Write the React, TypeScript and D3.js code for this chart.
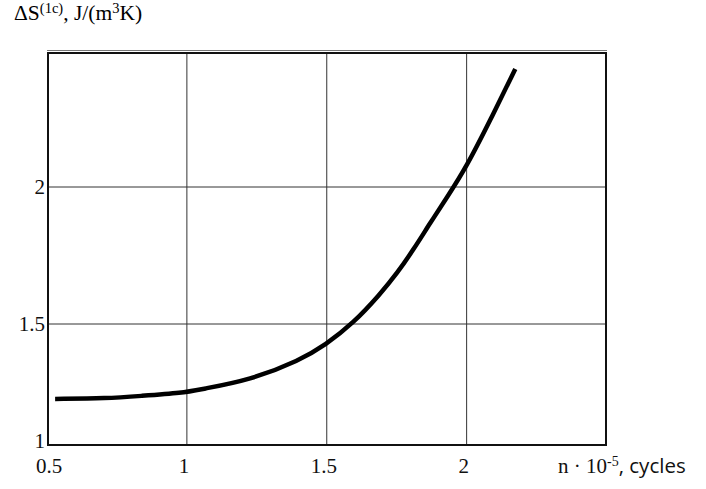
import React from "react";
import * as d3 from "d3";

const curveX = [0.529, 0.715, 0.833, 0.987, 1.047, 1.226, 1.405, 1.495, 1.595, 1.691, 1.752, 1.809, 1.87, 1.931, 1.999, 2.085, 2.174];
const curveY = [1.193, 1.195, 1.205, 1.218, 1.232, 1.27, 1.352, 1.414, 1.503, 1.609, 1.686, 1.77, 1.869, 1.964, 2.073, 2.245, 2.431];
const xTicks = [0.5, 1, 1.5, 2];
const yTicks = [1, 1.5, 2];
const xGrid = [1, 1.5, 2];
const yGrid = [1.5, 2];

export default function App() {
  const W = 706, H = 489;
  const left = 48, right = 606, top = 53, bottom = 445;
  const x = d3.scaleLinear().domain([0.5, 2.5]).range([47, 606.5]);
  const y = d3.scaleLinear().domain([1, 1.5, 2.5]).range([446, 324, 50]);
  const pts: [number, number][] = curveX.map((v, i) => [v, curveY[i]]);
  const line = d3.line<[number, number]>().x(d => x(d[0])).y(d => y(d[1])).curve(d3.curveBasis);
  const serif = "'Liberation Serif', 'Times New Roman', serif";
  const sans = "'Open Sans', 'Noto Sans', sans-serif";
  return (
    <svg width={W} height={H} style={{ position: "absolute", left: 0, top: 0, background: "#fff" }}>
      <text x={14} y={20} fontFamily={serif} fontSize={21.5} fill="#000">
        ΔS<tspan fontSize={14.5} dy={-7}>(1c)</tspan><tspan dy={7}>, J/(m</tspan><tspan fontSize={14.5} dy={-7}>3</tspan><tspan dy={7}>K)</tspan>
      </text>
      {xGrid.map(v => (
        <line key={"xg" + v} x1={x(v)} x2={x(v)} y1={top} y2={bottom} stroke="#333" strokeWidth={1} />
      ))}
      {yGrid.map(v => (
        <line key={"yg" + v} x1={left} x2={right} y1={y(v)} y2={y(v)} stroke="#333" strokeWidth={1} />
      ))}
      <line x1={left - 1} x2={right + 1} y1={top - 2.5} y2={top - 2.5} stroke="#777" strokeWidth={1.2} />
      <rect x={left} y={top} width={right - left} height={bottom - top} fill="none" stroke="#111" strokeWidth={2} />
      <path d={line(pts) || ""} fill="none" stroke="#000" strokeWidth={4.5} strokeLinecap="butt" />
      {yTicks.map(v => (
        <text key={"yt" + v} x={45} y={v === 1 ? 441 : y(v)} dy="0.35em" textAnchor="end" fontFamily={serif} fontSize={21} fill="#111">
          {String(v)}
        </text>
      ))}
      {xTicks.map(v => (
        <text key={"xt" + v} x={v === 0.5 ? 49 : x(v) - 3} y={466} dy="0.35em" textAnchor="middle" fontFamily={serif} fontSize={21} fill="#111">
          {String(v)}
        </text>
      ))}
      <text x={558} y={473} fontFamily={serif} fontSize={21} fill="#111">
        n · 10<tspan fontSize={14} dy={-7}>-5</tspan><tspan dy={7} fontFamily={sans} fontSize={20.5}>, cycles</tspan>
      </text>
    </svg>
  );
}
